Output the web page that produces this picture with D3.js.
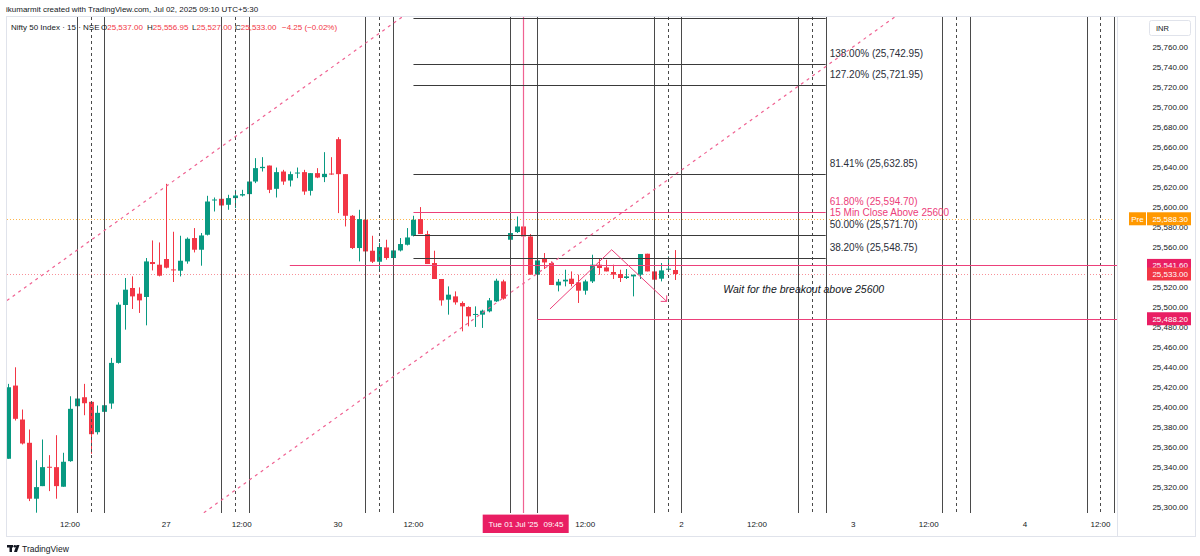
<!DOCTYPE html>
<html>
<head>
<meta charset="utf-8">
<script src="https://cdn.jsdelivr.net/npm/d3@7/dist/d3.min.js"></script>
<style>
  body { margin: 0; background: #fff; }
  svg { display: block; font-family: "Liberation Sans", Arial, sans-serif; }
</style>
</head>
<body>
<div id="chart-area"></div>
<script>
// 15 min candles, index 0 = 26 Jun 09:15 (25 bars per session)
let firstIndex = 2;
let openP = [25348,25421.3,25387.3,25364,25308,25320.6,25340,25339.6,25320,25345.6,25400.6,25409.6,25405,25374.6,25395,25403.3,
  25444,25502,25519,25513.3,25510,25545,25542.3,25548,25537.6,25536.3,25545.6,25569,25557.3,25572.3,25606.6,25608.3,25602.3,
  25609,25611.6,25613,25625.6,25639,25641.6,25618.3,25635.6,25626.6,25634,25635,25616.3,25634,25630,25633.6,
  25668,25633,25591.3,25559,25587.3,25556.3,25545.3,25559.6,25549,25556.6,25562.3,25571.3,25588,25573,25544,25528,
  25507.3,25510.6,25504,25500,25492,25492.3,25495.6,25505.6,25525.6,
  25567.3,25575,25580.6,25570.6,25532.3,25548,25544,25521.6,25525.6,25528.3,25524.6,25516.3,25525.6,25542.3,25539.6,
  25535,25533,25529,25530.6,25532.3,25553.3,25535.6,25528.3,25537.3,25537];
let highP = [25423,25439.6,25397.3,25377.3,25346.6,25367.3,25351.6,25371.6,25354,25410.6,25415,25423,25405,25401.3,25453.3,25449,
  25504.6,25529,25530.6,25519.6,25549,25566.6,25564.6,25623.3,25575.3,25571.3,25569.6,25579,25574,25611.3,25609.6,25609,25612.3,
  25617.3,25617.3,25633,25649,25650,25641.6,25639.6,25637.3,25635.6,25639.6,25637.3,25634,25639,25655,25650,
  25670,25633,25592,25597.3,25600.6,25571.3,25564,25567.3,25560.6,25569,25579,25591.3,25600,25576.3,25556.3,25528,
  25520.6,25515.6,25505.6,25500.6,25500.6,25497.3,25509,25528.3,25527.3,
  25581.3,25590.6,25588,25573,25548,25554,25545.6,25528,25537.3,25535.6,25532.3,25527.3,25552.3,25549,25547.3,
  25542.3,25537.3,25538,25532.3,25553,25553.3,25535.6,25544,25550.6,25556.95];
let lowP = [25348,25386.3,25362.3,25305.6,25294,25320.6,25315.6,25308,25320,25345,25393.3,25391.6,25353,25372.3,25390.6,25398,
  25443.3,25477.3,25498,25494,25481.6,25536.6,25530.6,25538.6,25525,25530.6,25543.3,25554.6,25541.3,25571.6,25595.6,25597.3,25597.3,
  25599,25610.6,25612.3,25624,25635.6,25614,25609.6,25622.3,25620.6,25629,25612.3,25611.6,25629,25625,25632.3,
  25594,25580.6,25558,25545.6,25554,25544,25535.6,25547.3,25541.3,25555.6,25561.6,25570.6,25573,25543,25528,25501.3,
  25492.3,25502.3,25475.6,25480.6,25480,25479,25494.6,25505,25507.3,
  25510.6,25574,25570.6,25532.3,25524.6,25538,25522,25515.6,25520.6,25520.6,25504,25512.3,25524,25532.3,25535.6,
  25528,25525,25528,25510.6,25528,25535.6,25517.3,25525.6,25537.3,25527];
let closeP = [25419.6,25388,25363.3,25308,25319.6,25339.6,25339,25320.6,25345,25398,25408.3,25403.6,25372.6,25394,25401.6,25444,
  25502.3,25517.3,25510.6,25506.6,25545.6,25543,25531.3,25539.3,25536.6,25546.3,25568.3,25557.3,25571.6,25605.6,25607.6,25601.6,25609,
  25611.6,25613,25625.6,25639,25640.3,25617.3,25635,25625.6,25633,25634.6,25615.6,25634,25629.6,25633.3,25633,
  25633,25591.3,25559,25588,25555.6,25545.3,25560,25549,25556.6,25563,25569.6,25587.3,25573,25543,25528,25506.6,
  25512.3,25504.6,25500.6,25490.6,25493,25496.3,25506.6,25526.3,25508.3,
  25574,25580.6,25570.6,25532.3,25546.6,25544.6,25522,25525.3,25527.3,25523,25516.3,25525.6,25542.3,25539,25535.6,
  25532.3,25529,25530.6,25532.3,25553,25535.6,25527.3,25536.6,25538.3,25533];

// axes
let priceTicks = d3.range(25300, 25761, 20);
let timeTicks = [11, 25, 36, 50, 61, 86, 100, 111, 125, 136, 150, 161];
let timeLabels = ["12:00", "27", "12:00", "30", "12:00", "12:00", "2", "12:00", "3", "12:00", "4", "12:00"];

// fib retracement levels
let fibPrices = [25789.15, 25742.95, 25721.95, 25632.85, 25594.70, 25571.70, 25548.75];
let fibLabels = ["", "138.00% (25,742.95)", "127.20% (25,721.95)", "81.41% (25,632.85)",
  "61.80% (25,594.70)", "50.00% (25,571.70)", "38.20% (25,548.75)"];
let fibStart = 61, fibEnd = 121;

// time cycle lines (centre bar of each group)
let cycleCenters = [14, 35, 56, 77, 98, 119, 140, 161];

// horizontal rays
let rayPrices = [25541.60, 25488.20];
let rayStart = [43, 79];

// trend lines [i, price]
let upperChannel = [[1, 25502.4], [62, 25803.5]];
let lowerChannel = [[28, 25281.7], [132, 25795]];
let arrowPath = [[80.87, 25498], [89.85, 25557.3], [97.86, 25505.6]];

let prePrice = 25588.30, lastPrice = 25533.00;
let crossIndex = 77;

let W = 1200, H = 556;
let plotL = 7, plotR = 1117, plotT = 17, plotB = 513;
let up = "#089981", down = "#f23645", pink = "#ec407a", ink = "#131722";

let svg = d3.select("#chart-area").append("svg")
  .attr("width", W).attr("height", H);

let x = d3.scaleLinear().domain([0, 100]).range([-5.6, 681.4]);
let y = d3.scaleLinear().domain([25300, 25760]).range([506.7, 47.3]);

svg.append("defs").append("clipPath").attr("id", "plot-clip")
  .append("rect").attr("x", plotL).attr("y", plotT)
  .attr("width", plotR - plotL).attr("height", plotB - plotT);

// header
svg.append("text").attr("x", 6).attr("y", 9).attr("dy", "0.35em")
  .attr("font-size", "8px").attr("fill", ink)
  .text("ikumarmit created with TradingView.com, Jul 02, 2025 09:10 UTC+5:30");

// frame
svg.append("rect").attr("x", 6.5).attr("y", 16.5).attr("width", 1189).attr("height", 520)
  .attr("fill", "none").attr("stroke", "#e0e3eb");
svg.append("line").attr("x1", plotR + 0.5).attr("x2", plotR + 0.5).attr("y1", 17).attr("y2", 536)
  .attr("stroke", "#e0e3eb");

let g = svg.append("g").attr("clip-path", "url(#plot-clip)");

// price lines (pre-market, last)
g.append("line").attr("x1", plotL).attr("x2", 1129)
  .attr("y1", Math.round(y(prePrice)) + 0.5).attr("y2", Math.round(y(prePrice)) + 0.5)
  .attr("stroke", "#ff9800").attr("stroke-opacity", 0.7).attr("stroke-dasharray", "1,2");
g.append("line").attr("x1", plotL).attr("x2", plotR)
  .attr("y1", Math.round(y(lastPrice)) + 0.5).attr("y2", Math.round(y(lastPrice)) + 0.5)
  .attr("stroke", down).attr("stroke-opacity", 0.55).attr("stroke-dasharray", "1,2");

// candles
let candles = openP.map(function(o, k) {
  return { i: firstIndex + k, o: o, h: highP[k], l: lowP[k], c: closeP[k] };
});
g.selectAll(".wick").data(candles).enter().append("line")
  .attr("class", "wick")
  .attr("x1", function(d) { return Math.round(x(d.i)) + 0.5; })
  .attr("x2", function(d) { return Math.round(x(d.i)) + 0.5; })
  .attr("y1", function(d) { return y(d.h); })
  .attr("y2", function(d) { return y(d.l); })
  .attr("stroke", function(d) { return d.c >= d.o ? up : down; });
g.selectAll(".body").data(candles).enter().append("rect")
  .attr("class", "body")
  .attr("x", function(d) { return Math.round(x(d.i)) - 2; })
  .attr("width", 5)
  .attr("y", function(d) { return y(Math.max(d.o, d.c)); })
  .attr("height", function(d) { return Math.max(1, Math.abs(y(d.o) - y(d.c))); })
  .attr("fill", function(d) { return d.c >= d.o ? up : down; });

// time cycle lines
cycleCenters.forEach(function(c) {
  [c - 2, c + 2].forEach(function(i) {
    g.append("line").attr("x1", Math.round(x(i)) + 0.5).attr("x2", Math.round(x(i)) + 0.5)
      .attr("y1", plotT).attr("y2", plotB)
      .attr("stroke", "#4a4a4a").attr("stroke-width", 1);
  });
  g.append("line").attr("x1", Math.round(x(c)) + 0.5).attr("x2", Math.round(x(c)) + 0.5)
    .attr("y1", plotT).attr("y2", plotB)
    .attr("stroke", "#4a4a4a").attr("stroke-dasharray", "3,3");
});

// crosshair vertical
g.append("line").attr("x1", Math.round(x(crossIndex)) + 0.5).attr("x2", Math.round(x(crossIndex)) + 0.5)
  .attr("y1", plotT).attr("y2", plotB).attr("stroke", "#f06292").attr("stroke-width", 1.2);

// fib levels
fibPrices.forEach(function(p, k) {
  g.append("line").attr("x1", x(fibStart)).attr("x2", x(fibEnd))
    .attr("y1", Math.round(y(p)) + 0.5).attr("y2", Math.round(y(p)) + 0.5)
    .attr("stroke", k === 4 ? pink : "#3a3a3a").attr("stroke-width", 1.2);
  if (fibLabels[k]) {
    g.append("text").attr("x", x(fibEnd) + 4).attr("y", y(p) - 10.5).attr("dy", "0.35em")
      .attr("font-size", "10px").attr("fill", k === 4 ? pink : "#2a2e39")
      .text(fibLabels[k]);
  }
});
g.append("text").attr("x", x(fibEnd) + 4).attr("y", y(fibPrices[4]) - 0.3).attr("dy", "0.35em")
  .attr("font-size", "10px").attr("fill", pink).text("15 Min Close Above 25600");

// horizontal rays
rayPrices.forEach(function(p, k) {
  g.append("line").attr("x1", x(rayStart[k])).attr("x2", plotR)
    .attr("y1", Math.round(y(p)) + 0.5).attr("y2", Math.round(y(p)) + 0.5)
    .attr("stroke", pink).attr("stroke-width", 1.2);
});

// channel lines
let line = d3.line().x(function(d) { return x(d[0]); }).y(function(d) { return y(d[1]); });
[upperChannel, lowerChannel].forEach(function(pts) {
  g.append("path").attr("d", line(pts)).attr("fill", "none")
    .attr("stroke", "#f06292").attr("stroke-width", 1.2).attr("stroke-dasharray", "3,4");
});

// arrow
g.append("path").attr("d", line(arrowPath)).attr("fill", "none")
  .attr("stroke", pink).attr("stroke-width", 1);
let tip = arrowPath[arrowPath.length - 1];
let tx = x(tip[0]), ty = y(tip[1]);
g.append("path").attr("d", "M" + (tx - 6) + "," + ty + "L" + tx + "," + ty + "L" + tx + "," + (ty - 6))
  .attr("fill", "none").attr("stroke", pink).attr("stroke-width", 1);

// note
g.append("text").attr("x", x(106.1)).attr("y", y(25518)).attr("dy", "0.35em")
  .attr("font-size", "10.5px").attr("font-style", "italic").attr("fill", ink)
  .text("Wait for the breakout above 25600");

// legend
let legend = svg.append("g").attr("font-size", "8px");
legend.append("text").attr("x", 11).attr("y", 27).attr("dy", "0.35em").attr("fill", ink)
  .text("Nifty 50 Index · 15 · NSE");
let ohlc = [["O", "25,537.00", 101], ["H", "25,556.95", 147], ["L", "25,527.00", 192], ["C", "25,533.00", 235]];
ohlc.forEach(function(d) {
  let t = legend.append("text").attr("x", d[2]).attr("y", 27).attr("dy", "0.35em");
  t.append("tspan").attr("fill", ink).text(d[0]);
  t.append("tspan").attr("fill", down).text(d[1]);
});
legend.append("text").attr("x", 282).attr("y", 27).attr("dy", "0.35em").attr("fill", down)
  .text("\u22124.25 (\u22120.02%)");

// right price axis
let axisG = svg.append("g").attr("font-size", "8px").attr("fill", ink);
axisG.selectAll("text").data(priceTicks).enter().append("text")
  .attr("x", 1188).attr("y", function(d) { return y(d); }).attr("dy", "0.35em")
  .attr("text-anchor", "end")
  .text(function(d) { return d3.format(",.2f")(d); });

svg.append("rect").attr("x", 1149.5).attr("y", 20.5).attr("width", 41).attr("height", 15).attr("rx", 2)
  .attr("fill", "#fff").attr("stroke", "#e0e3eb");
svg.append("text").attr("x", 1156).attr("y", 28).attr("dy", "0.35em")
  .attr("font-size", "7.5px").attr("fill", ink).text("INR");

function badge(p, color, label) {
  let yy = y(p);
  svg.append("rect").attr("x", 1147).attr("y", yy - 6.5).attr("width", 44).attr("height", 13)
    .attr("fill", color);
  svg.append("text").attr("x", 1188).attr("y", yy).attr("dy", "0.35em")
    .attr("text-anchor", "end").attr("font-size", "8px").attr("fill", "#fff").text(label);
}
svg.append("rect").attr("x", 1129).attr("y", y(prePrice) - 6.5).attr("width", 17).attr("height", 13)
  .attr("fill", "#ff9800");
svg.append("text").attr("x", 1137.5).attr("y", y(prePrice)).attr("dy", "0.35em")
  .attr("text-anchor", "middle").attr("font-size", "8px").attr("fill", "#fff").text("Pre");
badge(prePrice, "#ff9800", "25,588.30");
badge(rayPrices[0], "#e91e63", "25,541.60");
badge(lastPrice, down, "25,533.00");
badge(rayPrices[1], "#e91e63", "25,488.20");

// time axis
let timeG = svg.append("g").attr("font-size", "8px").attr("fill", ink);
timeTicks.forEach(function(i, k) {
  timeG.append("text").attr("x", x(i)).attr("y", 524.5).attr("dy", "0.35em")
    .attr("text-anchor", "middle").text(timeLabels[k]);
});
svg.append("rect").attr("x", 482.7).attr("y", 514.6).attr("width", 86).attr("height", 18.4)
  .attr("fill", "#e91e63");
svg.append("text").attr("x", 488.5).attr("y", 524).attr("dy", "0.35em")
  .attr("font-size", "8px").attr("fill", "#fff").text("Tue 01 Jul '25");
svg.append("text").attr("x", 563.5).attr("y", 524).attr("dy", "0.35em").attr("text-anchor", "end")
  .attr("font-size", "8px").attr("fill", "#fff").text("09:45");

// TradingView footer
let logo = svg.append("g").attr("fill", ink);
logo.append("rect").attr("x", 7).attr("y", 545).attr("width", 6).attr("height", 2.5);
logo.append("rect").attr("x", 9.5).attr("y", 545).attr("width", 2.5).attr("height", 7);
logo.append("circle").attr("cx", 14.8).attr("cy", 546.3).attr("r", 1.3);
logo.append("path").attr("d", "M16.5,545L19.5,545L17,552L14,552Z");
svg.append("text").attr("x", 22).attr("y", 549).attr("dy", "0.35em")
  .attr("font-size", "8.5px").attr("fill", ink).text("TradingView");
</script>
</body>
</html>
